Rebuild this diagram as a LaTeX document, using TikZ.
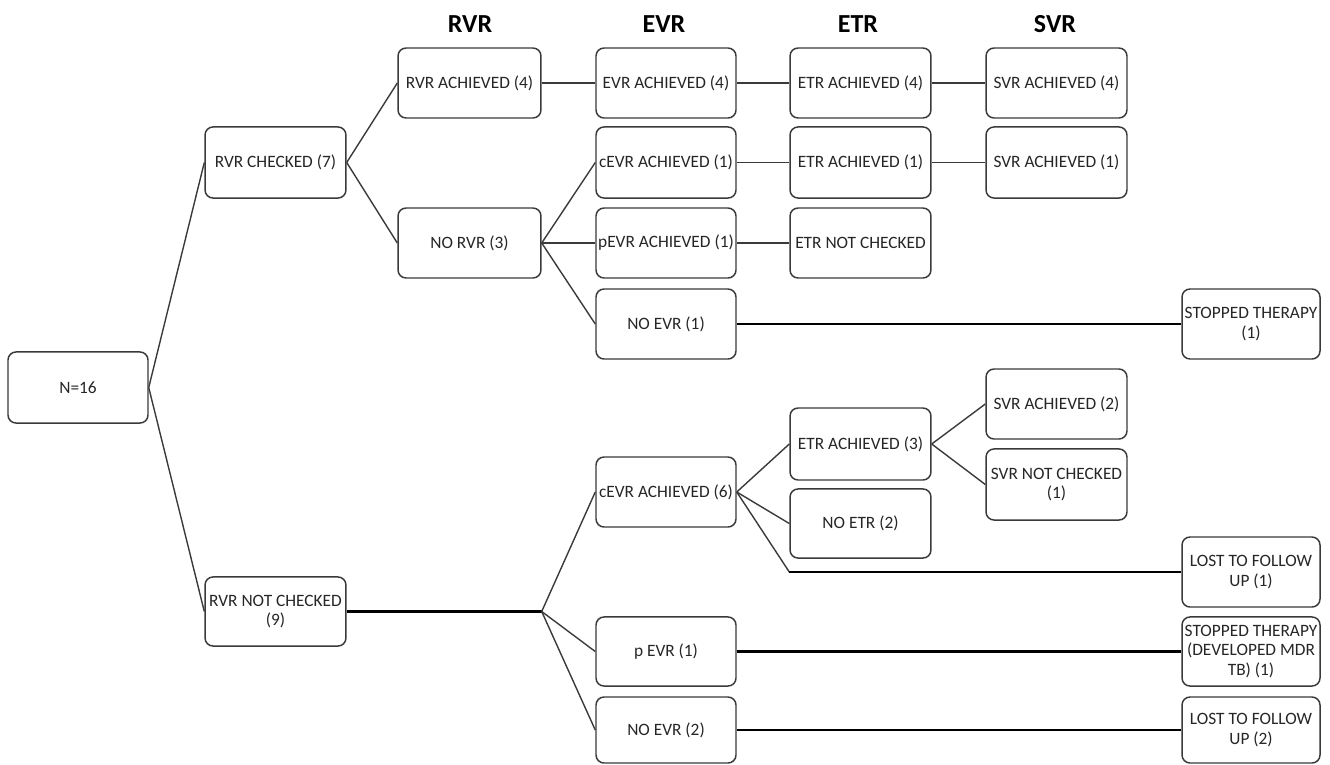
\documentclass[tikz,border=0pt]{standalone}
\usepackage{fontspec}
\setmainfont{Carlito}
\definecolor{boxline}{HTML}{3A3A3A}
\definecolor{txt}{HTML}{262626}
\begin{document}
\begin{tikzpicture}[x=0.75pt,y=-0.75pt,
  box/.style={draw=boxline, line width=1.1pt, rounded corners=6pt, fill=white,
    text=txt, align=center, inner sep=1pt, font=\fontsize{13}{14.6}\selectfont},
  hdr/.style={text=black, font=\fontsize{19.5}{22}\selectfont\bfseries, inner sep=0pt},
  thin/.style={draw=boxline, line width=1.05pt},
  hline/.style={draw=boxline, line width=1.3pt},
  thick/.style={draw=black, line width=2.1pt}]
\useasboundingbox (0,0) rectangle (1330,764);
% headers
\node[hdr] (hrvr) at (470,24) {RVR};
\node[hdr] (hevr) at (664,24) {EVR};
\node[hdr] (hetr) at (858,24) {ETR};
\node[hdr] (hsvr) at (1055,24) {SVR};
% column A, B
\node[box, minimum width=105pt, minimum height=53.3pt] (n16) at (78,387.5) {N=16};
\node[box, minimum width=105.7pt, minimum height=53.3pt] (rc) at (275.5,162.5) {RVR CHECKED (7)};
\node[box, minimum width=105.7pt, minimum height=51.8pt] (rnc) at (275.5,611.5) {RVR NOT CHECKED\\(9)};
% column C
\node[box, minimum width=107.2pt, minimum height=52.5pt] (ra4) at (469.5,83) {RVR ACHIEVED (4)};
\node[box, minimum width=107.2pt, minimum height=52.5pt] (nrvr) at (469.5,243) {NO RVR (3)};
% column D
\node[box, minimum width=105pt, minimum height=52.5pt] (e4) at (666,83) {EVR ACHIEVED (4)};
\node[box, minimum width=105pt, minimum height=53.3pt] (ce1) at (666,162.5) {cEVR ACHIEVED (1)};
\node[box, minimum width=105pt, minimum height=52.5pt] (pe1) at (666,243) {pEVR ACHIEVED (1)};
\node[box, minimum width=105pt, minimum height=52.5pt] (ne1) at (666,324) {NO EVR (1)};
\node[box, minimum width=105pt, minimum height=52.5pt] (ce6) at (666,492) {cEVR ACHIEVED (6)};
\node[box, minimum width=105pt, minimum height=51.8pt] (pevr) at (666,651.5) {p EVR (1)};
\node[box, minimum width=105pt, minimum height=49.5pt] (ne2) at (666,730) {NO EVR (2)};
% column E
\node[box, minimum width=105.7pt, minimum height=52.5pt] (t4) at (860.5,83) {ETR ACHIEVED (4)};
\node[box, minimum width=105.7pt, minimum height=53.3pt] (t1) at (860.5,162.5) {ETR ACHIEVED (1)};
\node[box, minimum width=105.7pt, minimum height=52.5pt] (tnc) at (860.5,243) {ETR NOT CHECKED};
\node[box, minimum width=105.7pt, minimum height=54pt] (t3) at (860.5,444) {ETR ACHIEVED (3)};
\node[box, minimum width=105.7pt, minimum height=51.8pt] (netr) at (860.5,523.5) {NO ETR (2)};
% column F
\node[box, minimum width=105.7pt, minimum height=52.5pt] (s4) at (1056.5,83) {SVR ACHIEVED (4)};
\node[box, minimum width=105.7pt, minimum height=53.3pt] (s1) at (1056.5,162.5) {SVR ACHIEVED (1)};
\node[box, minimum width=105.7pt, minimum height=52.5pt] (s2) at (1056.5,404) {SVR ACHIEVED (2)};
\node[box, minimum width=105.7pt, minimum height=53.3pt] (snc) at (1056.5,484.5) {SVR NOT CHECKED\\(1)};
% column G
\node[box, minimum width=103.5pt, minimum height=52.5pt] (st1) at (1251,324) {STOPPED THERAPY\\(1)};
\node[box, minimum width=103.5pt, minimum height=52.5pt] (lost1) at (1251,572) {LOST TO FOLLOW\\UP (1)};
\node[box, minimum width=103.5pt, minimum height=51.8pt] (stmdr) at (1251,651.5) {STOPPED THERAPY\\(DEVELOPED MDR\\TB) (1)};
\node[box, minimum width=103.5pt, minimum height=49.5pt] (lost2) at (1251,730) {LOST TO FOLLOW\\UP (2)};
% helper coordinates
\coordinate (j1) at (nrvr.east |- rnc.east);
\coordinate (j2) at (netr.west |- lost1.west);
% connectors
\draw[thin] (n16.east) -- (rc.west);
\draw[thin] (n16.east) -- (rnc.west);
\draw[thin] (rc.east) -- (ra4.west);
\draw[thin] (rc.east) -- (nrvr.west);
\draw[hline] (ra4.east) -- (e4.west);
\draw[hline] (e4.east) -- (t4.west);
\draw[hline] (t4.east) -- (s4.west);
\draw[thin] (nrvr.east) -- (ce1.west);
\draw[hline] (nrvr.east) -- (pe1.west);
\draw[thin] (nrvr.east) -- (ne1.west);
\draw[hline] (ce1.east) -- (t1.west);
\draw[hline] (t1.east) -- (s1.west);
\draw[hline] (pe1.east) -- (tnc.west);
\draw[thick] (ne1.east) -- (st1.west);
\draw[thin] (t3.east) -- (s2.west);
\draw[thin] (t3.east) -- (snc.west);
\draw[thin] (ce6.east) -- (t3.west);
\draw[thin] (ce6.east) -- (netr.west);
\draw[thin] (ce6.east) -- (j2);
\draw[thick] (j2) -- (lost1.west);
\draw[thick] (rnc.east) -- (j1);
\draw[thin] (j1) -- (ce6.west);
\draw[thin] (j1) -- (pevr.west);
\draw[thin] (j1) -- (ne2.west);
\draw[thick] (pevr.east) -- (stmdr.west);
\draw[thick] (ne2.east) -- (lost2.west);
\end{tikzpicture}
\end{document}
